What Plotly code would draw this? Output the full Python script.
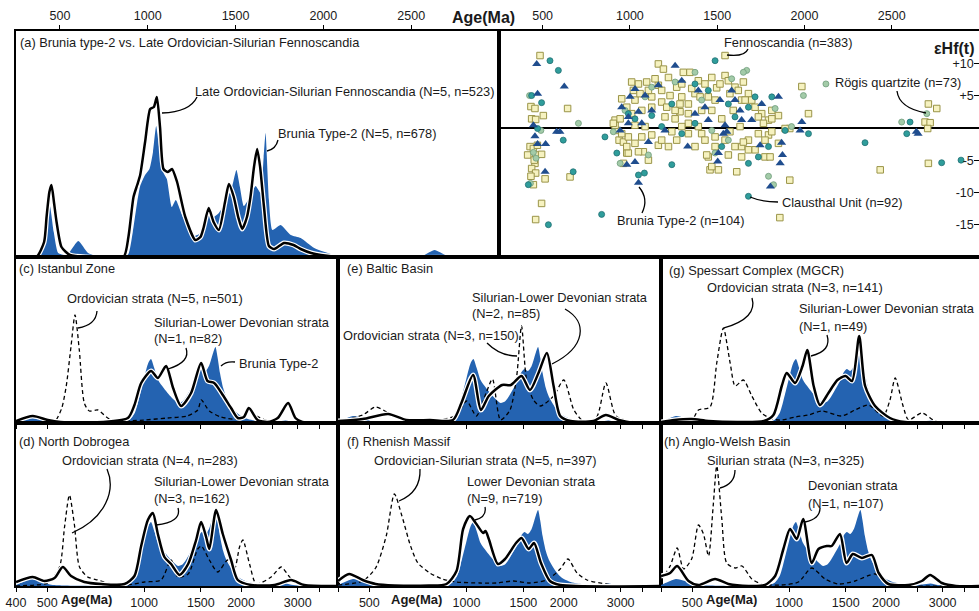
import numpy as np
import plotly.graph_objects as go

W, H = 979, 611
FONT = "Liberation Sans, Arial, sans-serif"
BLUE = "#2463b1"
TXT = "#1a1a1a"

# ---------------- DATA ----------------
# Panel (a): linear age axis, densities in arbitrary units
brunia_a_age = [250, 380, 420, 443, 465, 490, 540, 605, 660, 720, 850, 890, 915, 940, 957, 985, 1010, 1030, 1048, 1065,
                1090, 1109, 1137, 1160, 1200, 1262, 1300, 1347, 1375, 1405, 1450, 1480, 1505, 1525, 1547, 1585, 1614,
                1643, 1660, 1671, 1690, 1710, 1757, 1814, 1871, 1948, 2062, 2200, 2550, 2633, 2720, 3000]
brunia_a_den = [0, 1, 30, 51, 25, 4, 2, 16, 4, 0.5, 0, 3, 25, 55, 71, 82, 88, 105, 131, 110,
                84, 78, 50, 57, 40, 21, 24, 44, 40, 44, 57, 70, 87, 70, 51, 61, 71,
                64, 100, 124, 57, 27, 32, 22, 19, 9, 2, 0, 0, 7, 0, 0]
fenno_a_age = [250, 366, 410, 424, 440, 452, 466, 481, 509, 557, 650, 862, 890, 919, 940, 957, 985, 1014, 1035, 1052,
               1070, 1090, 1115, 1138, 1167, 1214, 1271, 1300, 1319, 1347, 1375, 1405, 1440, 1462, 1490, 1515, 1538,
               1565, 1585, 1605, 1623, 1640, 1662, 1690, 1720, 1776, 1830, 1871, 1930, 1986, 2100, 3000]
fenno_a_den = [0, 0, 15, 40, 65, 72, 55, 35, 10, 2, 0, 0, 20, 60, 72, 82, 115, 148, 150, 160,
               130, 88, 85, 88, 75, 40, 17, 20, 30, 49, 35, 27, 55, 73, 60, 40, 28,
               40, 60, 90, 108, 90, 50, 11, 8, 14, 12, 8, 4, 2, 0, 0]

# Reference Brunia Type-2 curve for panels (c)-(h)
brunia_age = [400, 420, 445, 475, 510, 560, 700, 850, 900, 935, 970, 1000, 1030, 1050, 1075, 1105, 1150, 1190, 1230,
              1275, 1320, 1360, 1400, 1440, 1480, 1510, 1550, 1590, 1630, 1665, 1690, 1720, 1760, 1800, 1860, 1930,
              2000, 2100, 2200, 2400, 2600, 2750, 2900, 3100, 3300, 4000]
brunia_den = [1, 4, 7, 5, 1.5, 0.5, 0.3, 0.5, 3, 10, 28, 45, 60, 64, 55, 43, 35, 29, 24,
              20, 22, 28, 35, 42, 51, 54, 52, 57, 68, 76, 66, 50, 35, 26, 18, 11,
              7, 4, 2.5, 1.2, 1.5, 2.5, 1, 0.2, 0, 0]

# (c) Istanbul Zone
ist_ord_age = [400, 520, 533, 555, 573, 593, 610, 629, 652, 676, 718, 771, 829, 900, 1000, 1185, 1360, 1467, 1505,
               1594, 1734, 2000, 2090, 2200, 2420, 2600, 4000]
ist_ord_den = [0, 0, 3, 15, 37, 77, 108, 73, 20, 12, 13, 5, 1, 2, 3, 5, 7, 13, 23, 12, 6, 4, 13, 8, 2, 0, 0]
ist_sil_age = [400, 451, 502, 550, 700, 890, 933, 979, 1051, 1103, 1170, 1230, 1303, 1399, 1503, 1573, 1650, 1755,
               1862, 1954, 2040, 2115, 2250, 2420, 2600, 2800, 2950, 3100, 4000]
ist_sil_den = [2, 7, 3, 1, 0.5, 5, 18, 40, 52, 45, 57, 35, 17, 30, 60, 42, 40, 28, 15, 5, 6, 15, 3, 1, 5, 20, 5, 1, 0]

# (e) Baltic Basin
bal_ord_age = [400, 477, 523, 589, 651, 770, 931, 1000, 1073, 1150, 1203, 1274, 1363, 1430, 1480, 1534, 1612, 1693,
               1860, 2000, 2150, 2300, 2520, 2700, 2900, 3200, 4000]
bal_ord_den = [2, 8, 16, 8, 2, 1, 8, 22, 7, 30, 44, 3, 13, 47, 97, 43, 23, 17, 27, 43, 13, 2, 5, 40, 7, 2, 0]
bal_sil_age = [400, 477, 572, 651, 770, 908, 964, 1048, 1108, 1172, 1289, 1372, 1480, 1572, 1670, 1773, 1860, 1950,
               2100, 2470, 2700, 2960, 3300, 4000]
bal_sil_den = [2, 4, 9, 3, 3, 3, 20, 48, 13, 27, 38, 38, 47, 33, 50, 70, 37, 7, 2, 2, 8, 3, 0, 0]

# (g) Spessart Complex
spe_ord_age = [400, 498, 523, 568, 596, 625, 656, 680, 721, 766, 822, 884, 949, 1044, 1148, 1265, 1457, 1603, 1765,
               1960, 2058, 2136, 2260, 2350, 2585, 2840, 3100, 4000]
spe_ord_den = [1, 3, 13, 16, 60, 95, 60, 37, 43, 27, 10, 4, 3, 6, 8, 12, 7, 13, 18, 7, 23, 45, 17, 3, 10, 2, 0, 0]
spe_sil_age = [400, 440, 498, 562, 696, 835, 894, 949, 983, 1044, 1101, 1139, 1192, 1247, 1325, 1413, 1497, 1569,
               1651, 1723, 1850, 2058, 2290, 4000]
spe_sil_den = [1, 3, 4, 2, 1, 2, 8, 37, 50, 40, 57, 73, 37, 18, 30, 43, 47, 42, 87, 37, 17, 5, 1, 0]

# (d) North Dobrogea
dob_ord_age = [400, 456, 502, 546, 566, 586, 607, 630, 668, 718, 790, 890, 1002, 1129, 1213, 1273, 1370, 1467, 1505,
               1594, 1693, 1818, 1907, 1978, 2026, 2125, 2230, 2480, 2665, 2829, 3000, 3200, 4000]
dob_ord_den = [0, 1, 3, 19, 59, 91, 62, 19, 9, 6, 2, 1, 4, 6, 26, 9, 12, 37, 40, 26, 14, 26, 17, 39, 46, 22, 2, 9,
               19, 9, 2, 0, 0]
dob_sil_age = [400, 451, 490, 527, 559, 593, 652, 735, 869, 933, 979, 1027, 1064, 1103, 1156, 1213, 1288, 1370, 1450,
               1503, 1558, 1594, 1673, 1755, 1862, 1954, 2150, 2539, 2860, 3143, 4000]
dob_sil_den = [4, 9, 5, 8, 19, 10, 4, 2, 2, 10, 40, 66, 73, 52, 29, 22, 11, 22, 46, 64, 49, 37, 76, 52, 26, 6, 1, 1,
               6, 1, 0]

# (f) Rhenish Massif
rhe_ord_age = [400, 477, 523, 564, 598, 631, 671, 707, 770, 842, 931, 1100, 1239, 1396, 1572, 1773, 1950, 2060, 2199,
               2360, 2700, 3000, 4000]
rhe_ord_den = [1, 5, 18, 50, 92, 70, 40, 23, 13, 7, 4, 3, 3, 5, 3, 6, 17, 27, 13, 6, 2, 0, 0]
rhe_dev_age = [400, 433, 477, 523, 598, 765, 867, 931, 976, 1024, 1073, 1126, 1145, 1172, 1251, 1316, 1423, 1480,
               1557, 1618, 1700, 1812, 1950, 4000]
rhe_dev_den = [5, 12, 6, 2, 0.5, 0.5, 2, 15, 57, 70, 62, 53, 55, 47, 22, 27, 43, 48, 37, 43, 23, 5, 1, 0]

# (h) Anglo-Welsh Basin
ang_sil_age = [400, 427, 449, 470, 498, 523, 542, 562, 581, 596, 618, 640, 680, 714, 766, 822, 949, 1069, 1176,
               1294, 1423, 1603, 1850, 1987, 2100, 4000]
ang_sil_den = [6, 20, 38, 17, 27, 61, 52, 30, 80, 120, 67, 23, 18, 20, 7, 2, 1, 4, 18, 7, 2, 5, 12, 4, 1, 0]
ang_dev_age = [400, 427, 449, 487, 523, 589, 648, 748, 842, 905, 960, 1007, 1056, 1106, 1176, 1234, 1309, 1357,
               1439, 1508, 1578, 1684, 1808, 1899, 2035, 2348, 2584, 2742, 2983, 3300, 4000]
ang_dev_den = [10, 13, 20, 5, 1, 7, 2, 0, 1, 10, 37, 57, 47, 67, 23, 37, 40, 40, 52, 23, 32, 28, 31, 13, 2, 1, 5,
               11, 3, 0, 0]

# Panel (b): eHf(t) vs age
fenno_pts = [(485, 11.2), (433, 3.3), (456, 3.0), (437, 1.4), (460, 1.3), (504, 1.9), (643, 3.0), (428, -2.9),
             (447, -3.2), (414, -4.2), (460, -4.2), (494, -4.1), (456, -5.5), (437, -6.3), (460, -7.0), (514, -7.9),
             (447, -8.8), (494, -11.7), (460, -14.2), (657, -7.6), (452, -5.0), (433, -7.5), (470, -2.7),
             (953, 4.5), (915, 1.2), (925, -0.4), (938, -1.9), (982, -3.9), (963, -2.2), (991, -1.4), (1010, 7.1),
             (1049, 6.8), (1096, 7.1), (1029, 4.3), (1068, 2.7), (1125, 4.8), (1163, 9.9), (1192, 9.1), (1221, 7.8),
             (1268, 6.3), (1306, 8.6), (1344, 8.6), (1297, 4.8), (1335, 3.7), (1373, 5.3), (1392, 7.3), (1430, 6.8),
             (1469, 7.8), (1497, 6.2), (1545, 8.1), (1564, 7.3), (1602, 6.3), (1650, 7.1), (1679, 5.3), (1717, 3.2),
             (1755, 2.2), (1813, 2.7), (1851, 1.9), (1794, 1.2), (1916, -0.1), (1985, 6.4), (1163, 6.6), (1125, 3.2),
             (1201, 1.7), (1259, 1.4), (1268, -1.9), (1335, -0.9), (1373, -2.9), (1449, -4.5), (1459, -6.5),
             (1507, -6.5), (1564, -4.2), (1612, -6.8), (1640, -2.9), (1679, -1.9), (1717, -3.4), (1774, -4.5),
             (1803, -4.5), (1851, -2.4), (1794, -1.1), (1916, -8.1), (1859, -13.9), (2434, -6.5), (2710, -5.5),
             (2710, 3.7), (2758, 3.0), (2691, 0.9), (2720, 0.8), (2706, -0.1), (1077, -3.7), (1049, -3.7),
             (991, -3.9), (963, -5.5), (1106, -5.0), (1163, -2.7), (1221, -2.9), (1411, -0.9), (1488, -1.4),
             (1573, -0.6), (1631, 0.2), (1526, 1.4), (1469, 2.7), (1411, 2.7), (1640, 4.3), (1592, 2.7), (1287, 2.5),
             (1182, 4.0), (1087, 0.2), (1029, 0.4), (1010, 2.2), (2023, 2.2), (1545, 11.2),
             (915, 0.4), (944, 1.4), (982, 3.2), (1020, 5.8), (1058, 5.3), (1106, 5.8), (1144, 7.6), (1182, 5.8),
             (1230, 5.0), (1211, 3.2), (1259, 2.7), (1297, 6.8), (1354, 6.1), (1402, 4.8), (1449, 4.8), (1488, 4.3),
             (1516, 6.8), (1573, 5.3), (1621, 5.8), (1660, 4.3), (1698, 4.3), (1736, 1.7), (1765, 0.7), (1813, -0.6),
             (1736, -0.9), (1679, -3.4), (1640, -4.5), (1602, -2.9), (1545, -1.9), (1488, -2.9), (1430, -1.9),
             (1392, 0.2), (1335, 0.7), (1297, 0.2), (1240, -0.6), (1182, -1.9), (1125, -1.1), (1068, -1.4),
             (1029, -2.4), (982, -2.9), (953, -0.9), (905, 0.7), (1469, -6.0), (1440, -4.2), (1650, -2.2),
             (1774, -1.9), (1813, 1.4), (1889, -0.1), (1335, 2.2), (1287, 3.7)]
rogis_pts = [(1669, 8.9), (1650, 8.6), (1583, 7.6), (1373, 8.6), (1259, 7.1), (1125, 6.3), (1087, 4.8), (972, 2.7),
             (905, -0.6), (944, -5.5), (1106, -4.2), (1488, -3.9), (1823, -8.8), (1794, -7.5), (1469, -0.4),
             (1564, -1.9), (1411, 4.3), (1832, 3.0), (1926, 0.2), (1994, 5.0), (2123, 6.8), (2557, 0.9), (2701, 2.2),
             (425, 5.0), (490, -0.4), (705, 0.7), (447, -3.8), (462, -4.7), (430, -8.6)]
claus_pts = [(1488, 10.4), (1373, 6.8), (1449, 5.8), (1564, 3.7), (1679, 3.2), (1717, 4.8), (1813, 4.8), (1240, 3.7),
             (1125, 1.9), (1029, 1.4), (925, -3.9), (1049, -7.3), (1083, -7.0), (1240, -5.7), (1679, -5.5),
             (1736, -4.5), (1794, -2.9), (1889, -0.4), (2023, -0.9), (2347, -2.3), (2586, -0.9), (2605, 0.9),
             (2786, -5.4), (2897, -5.0), (838, -13.4), (1679, -10.6), (857, -1.4), (1297, -0.9), (1526, -2.9),
             (1602, 1.7), (1373, 0.7), (1182, 0.2), (991, 2.2), (494, 3.9), (542, 10.4), (590, 8.9), (618, -1.9),
             (675, -6.8), (533, -15.0), (437, 5.0), (471, -0.1), (418, -8.8)]
brunia_pts = [(466, 9.9), (471, 5.3), (624, 6.4), (447, 0.4), (456, -1.3), (471, -2.5), (517, -2.5), (514, -6.8),
              (580, -0.6), (599, -0.6), (1259, 9.6), (1297, 7.3), (1163, 6.6), (1029, 6.0), (1087, 5.0), (1001, 4.8),
              (953, 3.2), (991, 1.7), (1049, 2.5), (1125, 2.7), (1392, 5.8), (1430, 3.2), (1516, 4.3), (1583, 5.8),
              (1449, 1.2), (1545, 0.4), (1631, 2.7), (1640, 1.2), (1698, 1.2), (1755, 3.7), (1851, 4.8), (1985, 0.9),
              (1975, -0.4), (1869, -2.3), (1874, -4.2), (1861, -5.5), (1746, -2.7), (1535, -0.9), (1555, -0.6),
              (1507, -3.9), (1503, -5.2), (1331, -2.9), (1106, -2.2), (1029, -5.3), (982, -5.7), (1049, -8.5),
              (1805, -9.1), (2641, -0.6), (2651, -0.9), (991, 0.7), (1068, 0.7), (1201, -0.4), (1373, 2.2),
              (1602, 4.3), (944, -0.4)]

top_ticks = [500, 1000, 1500, 2000, 2500]
log_ticks = [400, 500, 1000, 1500, 2000, 2500, 3000, 3500]
log_labels_first = ["400", "500", "1000", "1500", "2000", "", "3000", ""]
log_labels_other = ["", "500", "1000", "1500", "2000", "", "3000", ""]
ehf_ticks = [10, 5, -5, -10, -15]
ehf_labels = ["+10", "+5", "-5", "-10", "-15"]

# ---------------- LAYOUT HELPERS ----------------
def fx(x):
    return x / W


def fy(y):
    return 1 - y / H


# panel boxes in pixels: (left, right, top, bottom)
boxes = {1: (16, 499, 31, 257), 2: (499, 979, 31, 257),
         3: (16, 338, 257, 423), 4: (338, 661, 257, 423), 5: (661, 979, 257, 423),
         6: (16, 338, 423, 586), 7: (338, 661, 423, 586), 8: (661, 979, 423, 586)}

fig = go.Figure()


def ax(n):
    return ("x" if n == 1 else f"x{n}"), ("y" if n == 1 else f"y{n}")


def kde(n, ages, den, kind, smooth=0.7):
    xa, ya = ax(n)
    if kind == "blue":
        fig.add_trace(go.Scatter(x=ages, y=den, xaxis=xa, yaxis=ya, mode="lines",
                                 line=dict(width=0, color=BLUE, shape="spline", smoothing=smooth),
                                 fill="tozeroy", fillcolor=BLUE, hoverinfo="skip"))
    elif kind == "dash":
        fig.add_trace(go.Scatter(x=ages, y=den, xaxis=xa, yaxis=ya, mode="lines",
                                 line=dict(width=1.3, color="black", dash="4px,3px", shape="spline",
                                           smoothing=smooth), hoverinfo="skip"))
    else:
        fig.add_trace(go.Scatter(x=ages, y=den, xaxis=xa, yaxis=ya, mode="lines",
                                 line=dict(width=5, color="white", shape="spline", smoothing=smooth),
                                 hoverinfo="skip"))
        fig.add_trace(go.Scatter(x=ages, y=den, xaxis=xa, yaxis=ya, mode="lines",
                                 line=dict(width=2.5, color="black", shape="spline", smoothing=smooth),
                                 hoverinfo="skip"))


# panel (a)
kde(1, brunia_a_age, brunia_a_den, "blue", 0.5)
kde(1, fenno_a_age, fenno_a_den, "black", 0.6)

# lower panels
lower = [(3, ist_ord_age, ist_ord_den, ist_sil_age, ist_sil_den),
         (4, bal_ord_age, bal_ord_den, bal_sil_age, bal_sil_den),
         (5, spe_ord_age, spe_ord_den, spe_sil_age, spe_sil_den),
         (6, dob_ord_age, dob_ord_den, dob_sil_age, dob_sil_den),
         (7, rhe_ord_age, rhe_ord_den, rhe_dev_age, rhe_dev_den),
         (8, ang_sil_age, ang_sil_den, ang_dev_age, ang_dev_den)]
for n, oa, od, sa, sd in lower:
    kde(n, brunia_age, brunia_den, "blue")
    kde(n, oa, od, "dash")
    kde(n, sa, sd, "black")

# panel (b) scatter
def scat(pts, symbol, size, color, lcolor, lw):
    fig.add_trace(go.Scatter(x=[p[0] for p in pts], y=[p[1] for p in pts], xaxis="x2", yaxis="y2",
                             mode="markers", hoverinfo="skip",
                             marker=dict(symbol=symbol, size=size, color=color,
                                         line=dict(color=lcolor, width=lw))))


scat(fenno_pts, "square", 6.5, "#f6f2c0", "#9a9448", 1)
scat(rogis_pts, "circle", 6, "#a3cba8", "#6f9c7b", 0.8)
scat(claus_pts, "circle", 6, "#2f9d9b", "#1f6f72", 0.8)
scat(brunia_pts, "triangle-up", 8, "#1f4d8e", "#1f4d8e", 0)

# axes
lay = {}
TICKFONT = dict(family=FONT, size=12.5, color=TXT)
for n, (l, r, t, b) in boxes.items():
    xk = "xaxis" if n == 1 else f"xaxis{n}"
    yk = "yaxis" if n == 1 else f"yaxis{n}"
    xa, ya = ax(n)
    common = dict(showline=True, mirror=True, linecolor="black", linewidth=1.5, showgrid=False,
                  zeroline=False, tickcolor="black", tickfont=TICKFONT, automargin=False)
    if n in (1, 2):
        xcfg = dict(common, domain=[fx(l), fx(r)], anchor=ya, type="linear", range=[250, 3000], side="top",
                    ticks="outside", ticklen=4, tickwidth=1.2, tickvals=top_ticks)
    else:
        rng = [np.log10(400), np.log10(4000)] if n not in (5, 8) else [np.log10(400), 3.59]
        xcfg = dict(common, domain=[fx(l), fx(r)], anchor=ya, type="log", range=rng,
                    ticks="outside", ticklen=4, tickwidth=1.2, tickvals=log_ticks)
        if n in (3, 4, 5):
            xcfg["showticklabels"] = False
        else:
            xcfg["ticktext"] = log_labels_first if n == 6 else log_labels_other
            xcfg["ticklabelstandoff"] = 0
    if n == 2:
        ycfg = dict(common, domain=[fy(b), fy(t)], anchor=xa, range=[-20, 15], side="right", ticks="inside",
                    ticklen=5, tickwidth=1.2, tickvals=ehf_ticks, ticktext=ehf_labels,
                    ticklabelposition="inside", zeroline=True, zerolinecolor="black", zerolinewidth=1.5)
    else:
        ycfg = dict(common, domain=[fy(b), fy(t)], anchor=xa, range=[0, b - t], showticklabels=False, ticks="")
    lay[xk] = xcfg
    lay[yk] = ycfg


# annotations
anns = []
LAB = 12.8


def ann(text, x, y, size=LAB, bold=False, xanchor="left"):
    if bold:
        text = f"<b>{text}</b>"
    anns.append(dict(text=text, x=fx(x), y=fy(y), xref="paper", yref="paper", showarrow=False,
                     xanchor=xanchor, yanchor="middle", font=dict(family=FONT, size=size, color=TXT)))


ann("Age(Ma)", 483, 18, 16, True, "center")
ann("Age(Ma)", 86, 599, 13, True, "center")
ann("Age(Ma)", 416, 599, 13, True, "center")
ann("Age(Ma)", 731, 599, 13, True, "center")
ann("εHf(t)", 976, 48, 16, True, "right")

ann("(a) Brunia type-2 vs. Late Ordovician-Silurian Fennoscandia", 18, 42)
ann("Late Ordovician-Silurian Fennoscandia (N=5, n=523)", 193, 92)
ann("Brunia Type-2 (N=5, n=678)", 276, 133)

ann("Fennoscandia (n=383)", 722, 43)
ann("Rögis quartzite (n=73)", 833, 82)
ann("Clausthal Unit (n=92)", 780, 202)
ann("Brunia Type-2 (n=104)", 615, 220)

ann("(c) Istanbul Zone", 17, 268)
ann("Ordovician strata (N=5, n=501)", 65, 298)
ann("Silurian-Lower Devonian strata", 152, 322)
ann("(N=1, n=82)", 152, 338)
ann("Brunia Type-2", 237, 363)

ann("(e) Baltic Basin", 345, 268)
ann("Silurian-Lower Devonian strata", 470, 297)
ann("(N=2, n=85)", 470, 313)
ann("Ordovician strata (N=3, n=150)", 341, 335)

ann("(g) Spessart Complex (MGCR)", 667, 270)
ann("Ordovician strata (N=3, n=141)", 705, 288)
ann("Silurian-Lower Devonian strata", 797, 308)
ann("(N=1, n=49)", 797, 326)

ann("(d) North Dobrogea", 17, 441)
ann("Ordovician strata (N=4, n=283)", 60, 460)
ann("Silurian-Lower Devonian strata", 152, 481)
ann("(N=3, n=162)", 152, 498)

ann("(f) Rhenish Massif", 345, 441)
ann("Ordovician-Silurian strata (N=5, n=397)", 372, 460)
ann("Lower Devonian strata", 465, 481)
ann("(N=9, n=719)", 465, 498)

ann("(h) Anglo-Welsh Basin", 662, 441)
ann("Silurian strata (N=3, n=325)", 705, 460)
ann("Devonian strata", 806, 485)
ann("(N=1, n=107)", 806, 503)


def leader(s):
    out = []
    isx = True
    for t in s.split():
        if t.isalpha():
            out.append(t)
        else:
            v = float(t)
            if isx:
                out.append(f"{fx(v):.5f},")
            else:
                out[-1] += f"{fy(v):.5f}"
            isx = not isx
    return " ".join(out)


leaders = ["M 162 113 Q 190 112 197 97", "M 267 151 Q 276 149 278 140",
           "M 727 55 Q 745 57 748 49", "M 897 91 Q 899 108 926 113",
           "M 750 197 Q 762 202 778 202", "M 639 187 Q 649 199 642 213",
           "M 97 311 Q 96 325 78 328", "M 186 348 Q 191 362 168 369", "M 221 366 Q 226 361 235 362",
           "M 565 309 C 588 322 586 347 552 364", "M 487 343 Q 500 356 517 356",
           "M 752 298 Q 758 318 724 328", "M 827 335 Q 832 351 811 356",
           "M 107 469 C 116 490 106 518 72 533", "M 178 508 Q 182 522 156 525",
           "M 420 469 Q 421 492 399 501", "M 485 507 Q 487 517 475 520",
           "M 735 470 Q 735 484 720 488", "M 820 508 Q 820 519 805 522"]
shapes = [dict(type="path", path=leader(s), xref="paper", yref="paper",
               line=dict(color="black", width=1.3)) for s in leaders]

fig.update_layout(width=W, height=H, margin=dict(l=0, r=0, t=0, b=0, autoexpand=False), paper_bgcolor="white",
                  plot_bgcolor="white", showlegend=False, annotations=anns, shapes=shapes,
                  font=dict(family=FONT, size=12, color=TXT), **lay)

fig.write_html("out.html")
